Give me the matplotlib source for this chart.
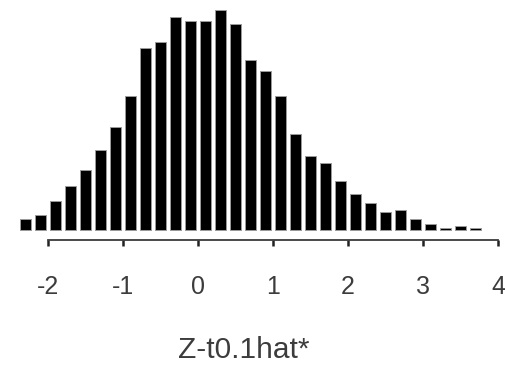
import matplotlib
matplotlib.use("Agg")
import matplotlib.pyplot as plt
import numpy as np

plt.rcParams["font.family"] = ["Liberation Sans", "DejaVu Sans"]
plt.rcParams["axes.unicode_minus"] = False

# Histogram of Z - t0.1hat* : bin centres and bar heights (frequency)
bin_centers = [-2.3, -2.1, -1.9, -1.7, -1.5, -1.3, -1.1, -0.9, -0.7, -0.5,
               -0.3, -0.1, 0.1, 0.3, 0.5, 0.7, 0.9, 1.1, 1.3, 1.5,
               1.7, 1.9, 2.1, 2.3, 2.5, 2.7, 2.9, 3.1, 3.3, 3.5, 3.7]
frequencies = [11, 15, 29, 44, 60, 80, 103, 134, 182, 188,
               213, 209, 209, 220, 206, 170, 159, 134, 96, 74,
               67, 49, 36, 27, 18, 20, 11, 6, 2, 4, 2]
tick_values = [-2, -1, 0, 1, 2, 3, 4]
tick_labels = ["-2", "-1", "0", "1", "2", "3", "4"]
x_title = "Z-t0.1hat*"

W, H = 506, 367
fig = plt.figure(figsize=(W / 100, H / 100), dpi=100)
fig.patch.set_facecolor("white")

ax_bottom_px = 240
ax = fig.add_axes([0, (H - ax_bottom_px) / H, 1, ax_bottom_px / H])
ax.set_facecolor("white")

ax.bar(bin_centers, frequencies, width=0.155, color="black",
       edgecolor="#9a9a9a", linewidth=0.7, align="center")

ax.set_xlim(-2.64, 4.107)
ax.set_ylim(-10, 230)

for side in ("top", "left", "right"):
    ax.spines[side].set_visible(False)
ax.spines["bottom"].set_bounds(-2, 4)
ax.spines["bottom"].set_color("#3a3a3a")
ax.spines["bottom"].set_linewidth(1.3)

ax.set_yticks([])
ax.set_xticks(tick_values)
ax.set_xticklabels(tick_labels)
ax.tick_params(axis="x", direction="out", length=4, width=1.8,
               color="#222222", pad=21, labelsize=18, labelcolor="#3c3c3c")

fig.text(244 / W, 1 - 350 / H, x_title, ha="center", va="center",
         fontsize=21.5, color="#3c3c3c")

fig.savefig("out.png", dpi=100, facecolor="white")
